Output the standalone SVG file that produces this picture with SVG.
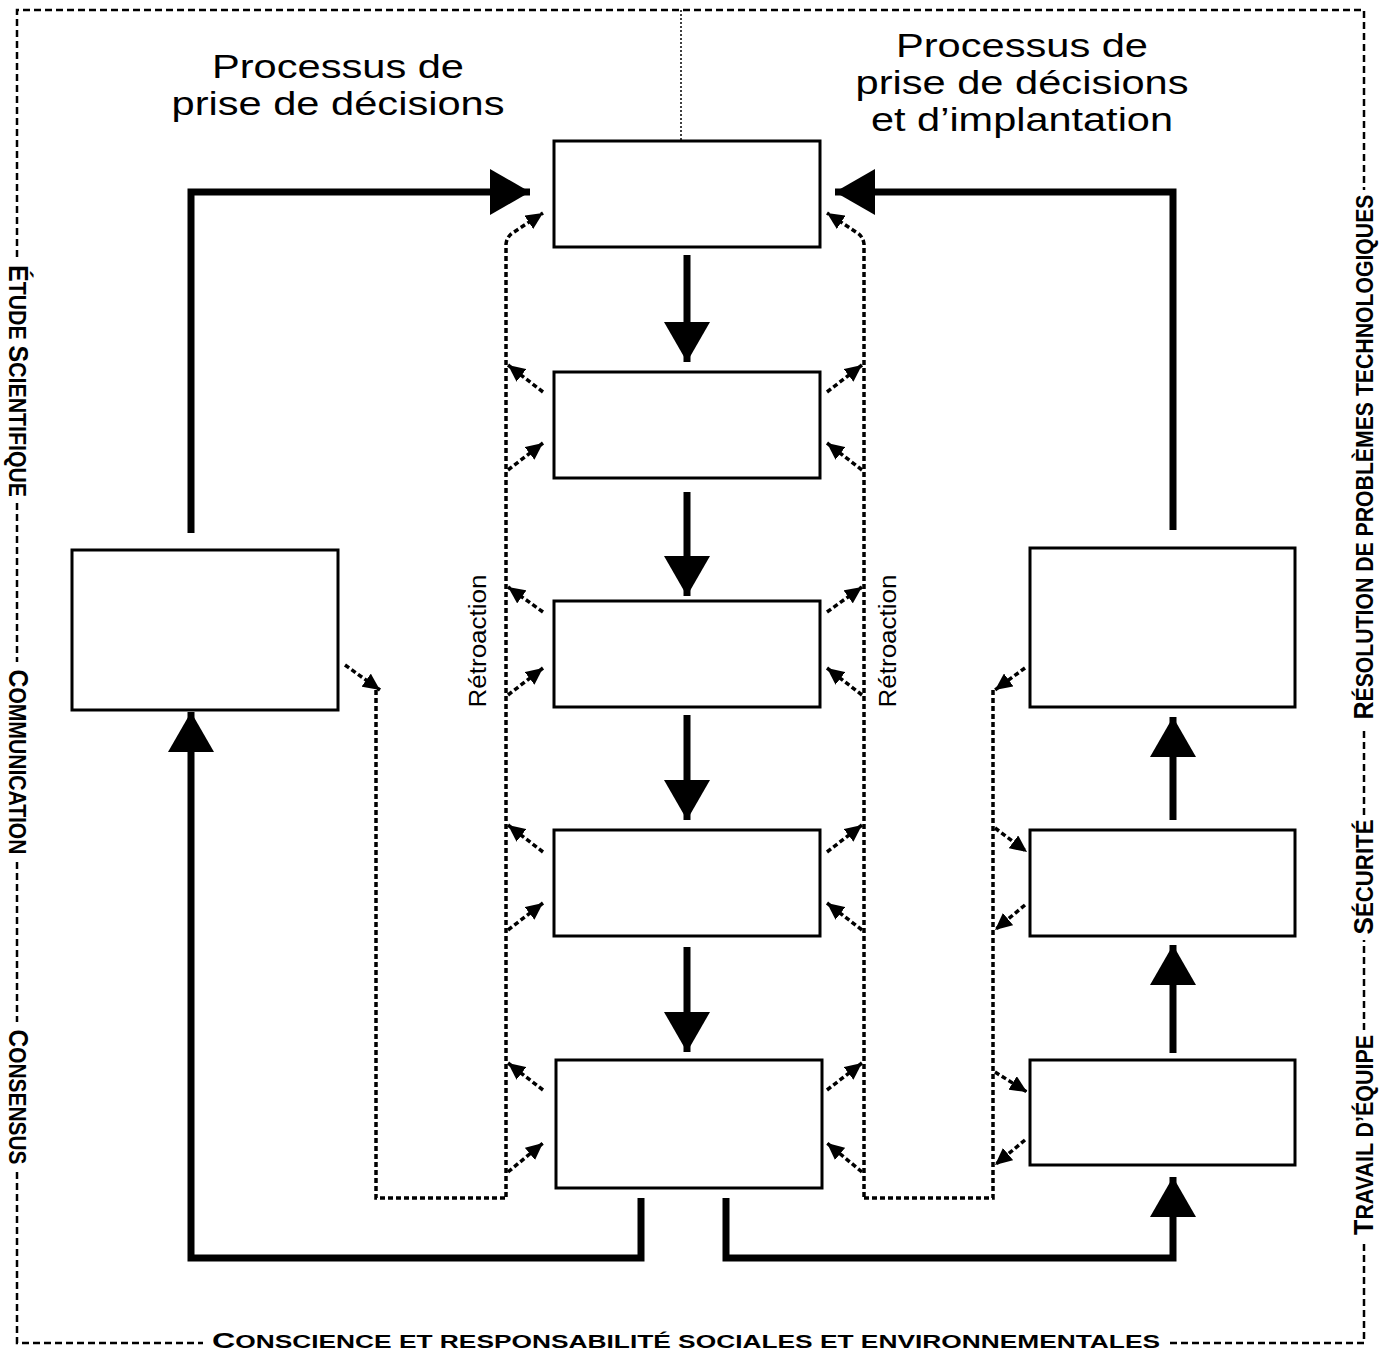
<svg xmlns="http://www.w3.org/2000/svg" width="1382" height="1352" viewBox="0 0 1382 1352">
<style>
.box{fill:#fff;stroke:#000;stroke-width:3}
.thick{fill:none;stroke:#000;stroke-width:7}
.dot{fill:none;stroke:#000;stroke-width:3.5;stroke-dasharray:5 3}
.border{fill:none;stroke:#000;stroke-width:2.5;stroke-dasharray:7 4}
.title{font-family:"Liberation Sans",Arial,sans-serif;font-size:34px;fill:#000;text-anchor:middle}
.side{font-family:"Liberation Sans",Arial,sans-serif;font-weight:bold;fill:#000;text-anchor:middle}
.retro{font-family:"Liberation Sans",Arial,sans-serif;font-size:23px;fill:#000;text-anchor:middle}
</style>
<defs>
<marker id="big" markerUnits="userSpaceOnUse" markerWidth="42" markerHeight="46" refX="40" refY="23" orient="auto">
<path d="M0,0 L40,23 L0,46 z" fill="#000"/>
</marker>
<marker id="small" markerUnits="userSpaceOnUse" markerWidth="18" markerHeight="16" refX="17" refY="8" orient="auto">
<path d="M0,0 L17,8 L0,16 z" fill="#000"/>
</marker>
</defs>
<rect width="1382" height="1352" fill="#fff"/>

<g id="frame">
<path class="border" d="M17,257 L17,10 L1364,10 L1364,190"/>
<path class="border" d="M17,503 L17,662 M17,862 L17,1022 M17,1172 L17,1343 L203,1343 M1170,1343 L1364,1343 L1364,1242 M1364,1030 L1364,940 M1364,815 L1364,727"/>
<path d="M681,10 L681,140" fill="none" stroke="#000" stroke-width="1.5" stroke-dasharray="2 2"/>
<text class="side" font-size="23" transform="translate(9,381) rotate(90)" textLength="232" lengthAdjust="spacingAndGlyphs"><tspan font-size="27">É</tspan>TUDE <tspan font-size="27">S</tspan>CIENTIFIQUE</text>
<text class="side" font-size="23" transform="translate(9,762) rotate(90)" textLength="185" lengthAdjust="spacingAndGlyphs"><tspan font-size="27">C</tspan>OMMUNICATION</text>
<text class="side" font-size="23" transform="translate(9,1097) rotate(90)" textLength="135" lengthAdjust="spacingAndGlyphs"><tspan font-size="27">C</tspan>ONSENSUS</text>
<text class="side" font-size="23" transform="translate(1373,457) rotate(-90)" textLength="525" lengthAdjust="spacingAndGlyphs"><tspan font-size="27">R</tspan>ÉSOLUTION DE PROBLÈMES TECHNOLOGIQUES</text>
<text class="side" font-size="23" transform="translate(1373,877) rotate(-90)" textLength="115" lengthAdjust="spacingAndGlyphs"><tspan font-size="27">S</tspan>ÉCURITÉ</text>
<text class="side" font-size="23" transform="translate(1373,1135) rotate(-90)" textLength="200" lengthAdjust="spacingAndGlyphs"><tspan font-size="27">T</tspan>RAVAIL D’ÉQUIPE</text>
<text class="side" font-size="18" x="686" y="1348" textLength="948" lengthAdjust="spacingAndGlyphs"><tspan font-size="22">C</tspan>ONSCIENCE ET RESPONSABILITÉ SOCIALES ET ENVIRONNEMENTALES</text>
</g>

<g id="titles">
<text class="title" x="338" y="78" textLength="252" lengthAdjust="spacingAndGlyphs">Processus de</text>
<text class="title" x="338" y="115" textLength="333" lengthAdjust="spacingAndGlyphs">prise de décisions</text>
<text class="title" x="1022" y="57" textLength="252" lengthAdjust="spacingAndGlyphs">Processus de</text>
<text class="title" x="1022" y="94" textLength="333" lengthAdjust="spacingAndGlyphs">prise de décisions</text>
<text class="title" x="1022" y="131" textLength="302" lengthAdjust="spacingAndGlyphs">et d’implantation</text>
<text class="retro" transform="translate(486,641) rotate(-90)" textLength="133" lengthAdjust="spacingAndGlyphs">Rétroaction</text>
<text class="retro" transform="translate(896,641) rotate(-90)" textLength="133" lengthAdjust="spacingAndGlyphs">Rétroaction</text>
</g>

<g id="connectors">
<path class="thick" d="M191,533 L191,192 L530,192" marker-end="url(#big)"/>
<path class="thick" d="M1173,530 L1173,192 L835,192" marker-end="url(#big)"/>
<path class="thick" d="M641,1198 L641,1258 L191,1258 L191,712" marker-end="url(#big)"/>
<path class="thick" d="M726,1198 L726,1258 L1173,1258 L1173,1177" marker-end="url(#big)"/>
<path class="thick" d="M687,255 L687,362" marker-end="url(#big)"/>
<path class="thick" d="M687,492 L687,596" marker-end="url(#big)"/>
<path class="thick" d="M687,715 L687,820" marker-end="url(#big)"/>
<path class="thick" d="M687,947 L687,1052" marker-end="url(#big)"/>
<path class="thick" d="M1173,1053 L1173,945" marker-end="url(#big)"/>
<path class="thick" d="M1173,820 L1173,717" marker-end="url(#big)"/>
<path class="dot" d="M506,1197 L506,244 Q507,236 514,232 L543,213" marker-end="url(#small)"/>
<path class="dot" d="M864,1197 L864,244 Q863,236 856,232 L827,213" marker-end="url(#small)"/>
<path class="dot" d="M376,690 L376,1198 L506,1198"/>
<path class="dot" d="M864,1198 L993,1198 L993,690"/>
<path class="dot" d="M345,665 L380,690" marker-end="url(#small)"/>
<path class="dot" d="M1025,668 L995,690" marker-end="url(#small)"/>
<path class="dot" d="M543,392 L508,365" marker-end="url(#small)"/>
<path class="dot" d="M508,470 L543,443" marker-end="url(#small)"/>
<path class="dot" d="M543,612 L508,587" marker-end="url(#small)"/>
<path class="dot" d="M508,695 L543,668" marker-end="url(#small)"/>
<path class="dot" d="M543,852 L508,825" marker-end="url(#small)"/>
<path class="dot" d="M508,930 L543,903" marker-end="url(#small)"/>
<path class="dot" d="M543,1090 L508,1063" marker-end="url(#small)"/>
<path class="dot" d="M508,1172 L543,1143" marker-end="url(#small)"/>
<path class="dot" d="M827,392 L862,365" marker-end="url(#small)"/>
<path class="dot" d="M862,470 L827,443" marker-end="url(#small)"/>
<path class="dot" d="M827,612 L862,587" marker-end="url(#small)"/>
<path class="dot" d="M862,695 L827,668" marker-end="url(#small)"/>
<path class="dot" d="M827,852 L862,825" marker-end="url(#small)"/>
<path class="dot" d="M862,930 L827,903" marker-end="url(#small)"/>
<path class="dot" d="M827,1090 L862,1063" marker-end="url(#small)"/>
<path class="dot" d="M862,1172 L827,1143" marker-end="url(#small)"/>
<path class="dot" d="M995,828 L1027,852" marker-end="url(#small)"/>
<path class="dot" d="M1025,905 L995,930" marker-end="url(#small)"/>
<path class="dot" d="M995,1072 L1027,1092" marker-end="url(#small)"/>
<path class="dot" d="M1025,1140 L995,1165" marker-end="url(#small)"/>
</g>

<g id="c1"><rect class="box" x="554" y="141" width="266" height="106"/></g>
<g id="c2"><rect class="box" x="554" y="372" width="266" height="106"/></g>
<g id="c3"><rect class="box" x="554" y="601" width="266" height="106"/></g>
<g id="c4"><rect class="box" x="554" y="830" width="266" height="106"/></g>
<g id="c5"><rect class="box" x="556" y="1060" width="266" height="128"/></g>
<g id="left"><rect class="box" x="72" y="550" width="266" height="160"/></g>
<g id="r1"><rect class="box" x="1030" y="548" width="265" height="159"/></g>
<g id="r2"><rect class="box" x="1030" y="830" width="265" height="106"/></g>
<g id="r3"><rect class="box" x="1030" y="1060" width="265" height="105"/></g>
</svg>
